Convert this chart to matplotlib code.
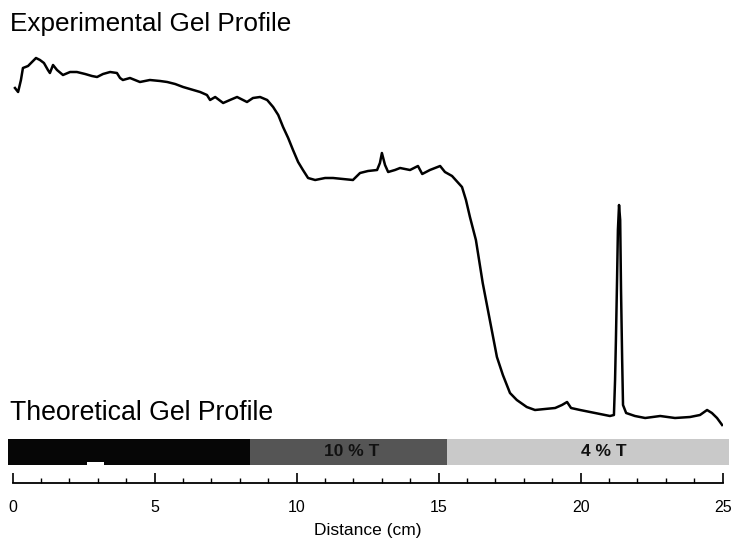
import matplotlib
matplotlib.use("Agg")
import matplotlib.pyplot as plt
import numpy as np

plt.rcParams['font.family'] = ['Liberation Sans', 'DejaVu Sans']

# Profil experimental (distance en cm, intensite en unites arbitraires)
distance_cm = [0.08, 0.19, 0.29, 0.36, 0.54, 0.68, 0.82, 0.96, 1.10, 1.24, 1.31, 1.42,
               1.56, 1.77, 2.02, 2.26, 2.55, 2.79, 2.97, 3.18, 3.43, 3.67, 3.78, 3.88,
               4.13, 4.48, 4.83, 5.19, 5.44, 5.72, 6.00, 6.24, 6.60, 6.84, 6.95, 7.13,
               7.41, 7.65, 7.90, 8.11, 8.25, 8.46, 8.71, 8.96, 9.17, 9.35, 9.52, 9.70,
               9.87, 10.05, 10.22, 10.40, 10.65, 11.00, 11.28, 11.63, 11.98, 12.23, 12.51,
               12.83, 12.93, 13.00, 13.11, 13.22, 13.46, 13.64, 13.99, 14.27, 14.42, 14.69,
               15.05, 15.22, 15.47, 15.82, 15.96, 16.10, 16.31, 16.55, 16.80, 17.05, 17.26,
               17.51, 17.75, 18.10, 18.39, 18.74, 19.10, 19.34, 19.52, 19.66, 19.98, 20.33,
               20.68, 21.03, 21.17, 21.21, 21.24, 21.28, 21.31, 21.35, 21.39, 21.42, 21.46,
               21.49, 21.60, 21.91, 22.27, 22.80, 23.32, 23.85, 24.20, 24.45, 24.62, 24.80,
               24.98]
intensity = [352, 348, 360, 372, 374, 378, 382, 380, 377, 370, 367, 375,
             370, 365, 368, 368, 366, 364, 363, 366, 368, 367, 362, 360,
             362, 358, 360, 359, 358, 356, 353, 351, 348, 345, 340, 343,
             337, 340, 343, 340, 338, 342, 343, 340, 333, 325, 313, 302,
             290, 278, 270, 262, 260, 262, 262, 261, 260, 267, 269,
             270, 277, 287, 275, 268, 270, 272, 270, 274, 266, 270,
             274, 268, 264, 253, 240, 223, 200, 157, 120, 83, 65,
             47, 40, 33, 30, 31, 32, 35, 38, 32, 30, 28,
             26, 24, 25, 60, 100, 160, 210, 235, 220, 150, 80,
             35, 27, 24, 22, 24, 22, 23, 25, 30, 27, 22,
             15]

# Profil theorique: zones du gel
zone_start = [-0.17, 8.36, 15.29]
zone_end = [8.36, 15.29, 25.22]
zone_color = ['#060606', '#555555', '#c9c9c9']
zone_label = ['', '10 % T', '4 % T']
zone_label_pos = [4.0, 11.95, 20.8]

x_ticks = [0, 5, 10, 15, 20, 25]

fig = plt.figure(figsize=(7.31, 5.39), dpi=100)
left = 12.7 / 731
width = 710 / 731

# Courbe experimentale
ax = fig.add_axes([left, 99 / 539, width, 400 / 539])
ax.plot(distance_cm, intensity, color='black', linewidth=1.8)
ax.set_xlim(0, 25)
ax.set_ylim(0, 400)
ax.axis('off')

# Barre du gel theorique
ax_bar = fig.add_axes([left, 74 / 539, width, 26 / 539])
for s, e, c in zip(zone_start, zone_end, zone_color):
    ax_bar.broken_barh([(s, e - s)], (0, 1), facecolors=c, clip_on=False)
ax_bar.broken_barh([(2.62, 0.6)], (0, 0.12), facecolors='white', clip_on=False)
for lab, pos in zip(zone_label, zone_label_pos):
    if lab:
        ax_bar.text(pos, 0.5, lab, ha='center', va='center', fontsize=12.5,
                    fontweight='bold', color='#111111')
ax_bar.set_xlim(0, 25)
ax_bar.set_ylim(0, 1)
ax_bar.axis('off')

# Axe des distances
ax_x = fig.add_axes([left, 56 / 539, width, 0.001])
ax_x.set_xlim(0, 25)
ax_x.set_yticks([])
for side in ['top', 'left', 'right']:
    ax_x.spines[side].set_visible(False)
ax_x.spines['bottom'].set_linewidth(1.3)
ax_x.set_xticks(x_ticks)
ax_x.set_xticks(np.arange(0, 26, 1), minor=True)
ax_x.tick_params(axis='x', which='major', direction='in', length=7.5, width=1.2,
                 pad=12, labelsize=11.5)
ax_x.tick_params(axis='x', which='minor', direction='in', length=3.8, width=1.0)
ax_x.set_xlabel('Distance (cm)', fontsize=12.5, labelpad=6)
ax_x.patch.set_visible(False)

fig.text(10 / 731, 1 - 12 / 539, 'Experimental Gel Profile', fontsize=18.8, va='top', ha='left')
fig.text(10 / 731, 1 - 400 / 539, 'Theoretical Gel Profile', fontsize=19.2, va='top', ha='left')

fig.savefig('out.png', dpi=100)
